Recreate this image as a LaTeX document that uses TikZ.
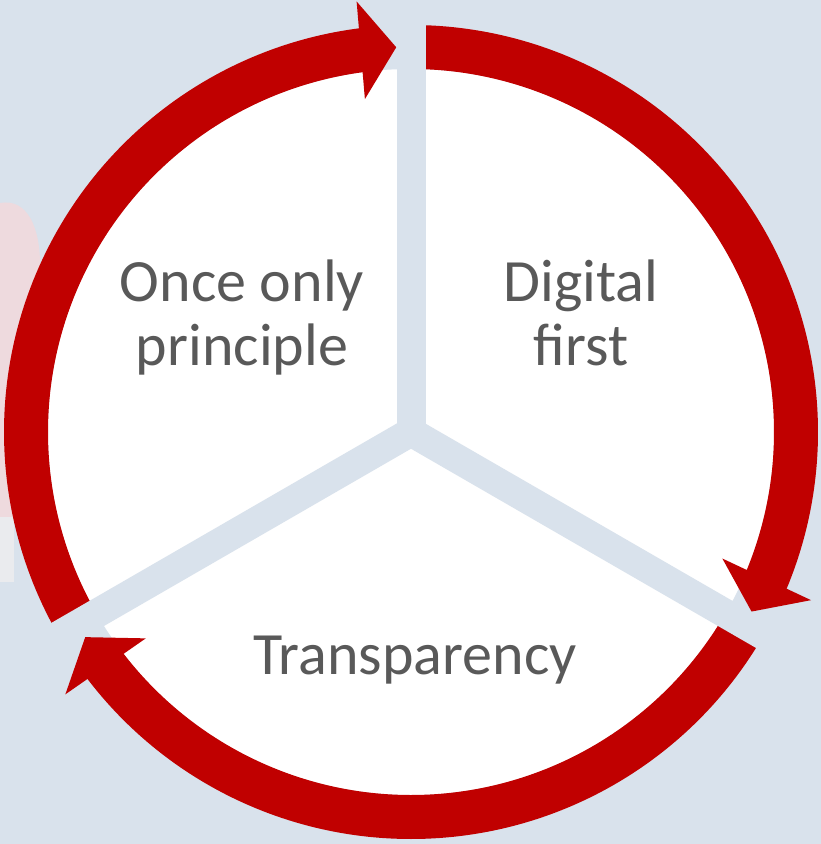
\documentclass[tikz,border=0pt]{standalone}
\usepackage{fontspec}
\setmainfont{Carlito}
\usetikzlibrary{calc}
\definecolor{bgblue}{RGB}{217,226,236}
\definecolor{ringred}{RGB}{192,0,0}
\definecolor{labelgrey}{RGB}{89,89,89}
\definecolor{blobpink}{RGB}{238,218,222}
\definecolor{blobwhite}{RGB}{234,235,238}

\begin{document}
\begin{tikzpicture}[x=1pt,y=1pt]
 \fill[bgblue] (0,0) rectangle (821,844);
 \useasboundingbox (0,0) rectangle (821,844);
 % faint shapes behind the ring at the left edge
 \fill[blobpink] (0,641) .. controls (28,646) and (40,615) .. (40,580) -- (40,327) -- (0,327) -- cycle;
 \fill[blobwhite] (0,327) rectangle (14,262);
 \coordinate (c) at (411,412);
 \fill[white] (c) circle[radius=363];
 % three arcs with heads
 \foreach \a in {0,-120,-240} {
  \begin{scope}[shift={(c)},rotate=\a]
   \fill[ringred] (210:407) arc[start angle=210,end angle=96,radius=407]
     -- (96:363) arc[start angle=96,end angle=210,radius=363] -- cycle;
   \coordinate (tip) at (92.2:385);
   \coordinate (base) at (97.5:385);
   \fill[ringred] (tip) -- ($(base)!49pt!90:(tip)$) -- ($(base)!49pt!-90:(tip)$) -- cycle;
  \end{scope}
 }
 % gaps
 \foreach \a in {90,-30,210}
  \draw[bgblue,line width=29pt] (c) -- ++(\a:460);
 \tikzstyle{every node} = [text=labelgrey,align=center,inner sep=0pt,
   font=\fontsize{60}{64}\selectfont]
 \node[anchor=base] (once) at (242,478) {Once only\\principle};
 \node[anchor=base] (digital) at (581,478) {Digital\\first};
 \node[anchor=base] (transp) at (415,169) {Transparency};
\end{tikzpicture}
\end{document}
